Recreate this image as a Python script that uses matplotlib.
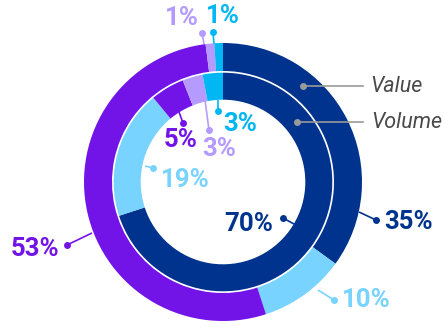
import matplotlib.pyplot as plt

# data
segments = ['dark', 'light', 'purple', 'lavender', 'cyan']
value = [35, 10, 53, 1, 1]
volume = [70, 19, 5, 3, 3]
colors = ['#00338d', '#78d3ff', '#7214e8', '#b59bff', '#00b7f3']

H = 326
cx, cy = 223, H - 182

fig = plt.figure(figsize=(4.44, 3.26), dpi=100)
ax = fig.add_axes([0, 0, 1, 1])

ax.pie(value, colors=colors, radius=139, center=(cx, cy), startangle=90,
       counterclock=False, wedgeprops=dict(width=28, linewidth=0))
ax.pie(volume, colors=colors, radius=109.3, center=(cx, cy), startangle=90,
       counterclock=False, wedgeprops=dict(width=27, linewidth=0))
ax.set_xlim(0, 444)
ax.set_ylim(0, H)
ax.set_aspect('equal')
ax.axis('off')

# leader labels: text, color, text pos, ha, dot pos, edge pos (pixel coords, y down)
value_lbl = [(value[0], colors[0], (384, 222), 'left', (376, 220), (359, 212)),
             (value[1], colors[1], (342, 300), 'left', (334, 300), (318, 290)),
             (value[2], colors[2], (59, 249), 'right', (67, 245), (92, 233)),
             (value[3], colors[3], (182, 18), 'center', (202, 33), (204, 44)),
             (value[4], colors[4], (223, 16), 'center', (213, 32), (214, 44))]
volume_lbl = [(volume[0], colors[0], (273, 224), 'right', (283, 218), (294, 224)),
              (volume[1], colors[1], (161, 180), 'left', (153, 168), (145, 166)),
              (volume[2], colors[2], (181, 140), 'center', (183, 123), (179, 112)),
              (volume[3], colors[3], (219, 149), 'center', (209, 130), (205, 100)),
              (volume[4], colors[4], (223, 124), 'left', (218, 111), (218, 100))]

for v, c, (tx, ty), ha, (dx, dy), (ex, ey) in value_lbl + volume_lbl:
    ax.plot([dx, ex], [H - dy, H - ey], color=c, lw=1.2, solid_capstyle='butt')
    ax.plot(dx, H - dy, 'o', color=c, ms=5, mec='none')
    ax.text(tx, H - ty, f'{v}%', color=c, ha=ha, va='center',
            fontsize=18.5, fontweight='bold', family='Roboto')

# ring legend
for name, (dx, dy), tx in [('Value', (303, 86), 370), ('Volume', (297, 122), 371)]:
    ax.plot([dx, 363], [H - dy, H - dy], color='#9a9a9a', lw=1.2)
    ax.plot(dx, H - dy, 'o', color='#9a9a9a', ms=5, mec='none')
    ax.text(tx, H - dy, name, color='#4a4a4a', ha='left', va='center',
            fontsize=15.5, style='italic', family='Roboto')

plt.savefig('out.png', dpi=100)
